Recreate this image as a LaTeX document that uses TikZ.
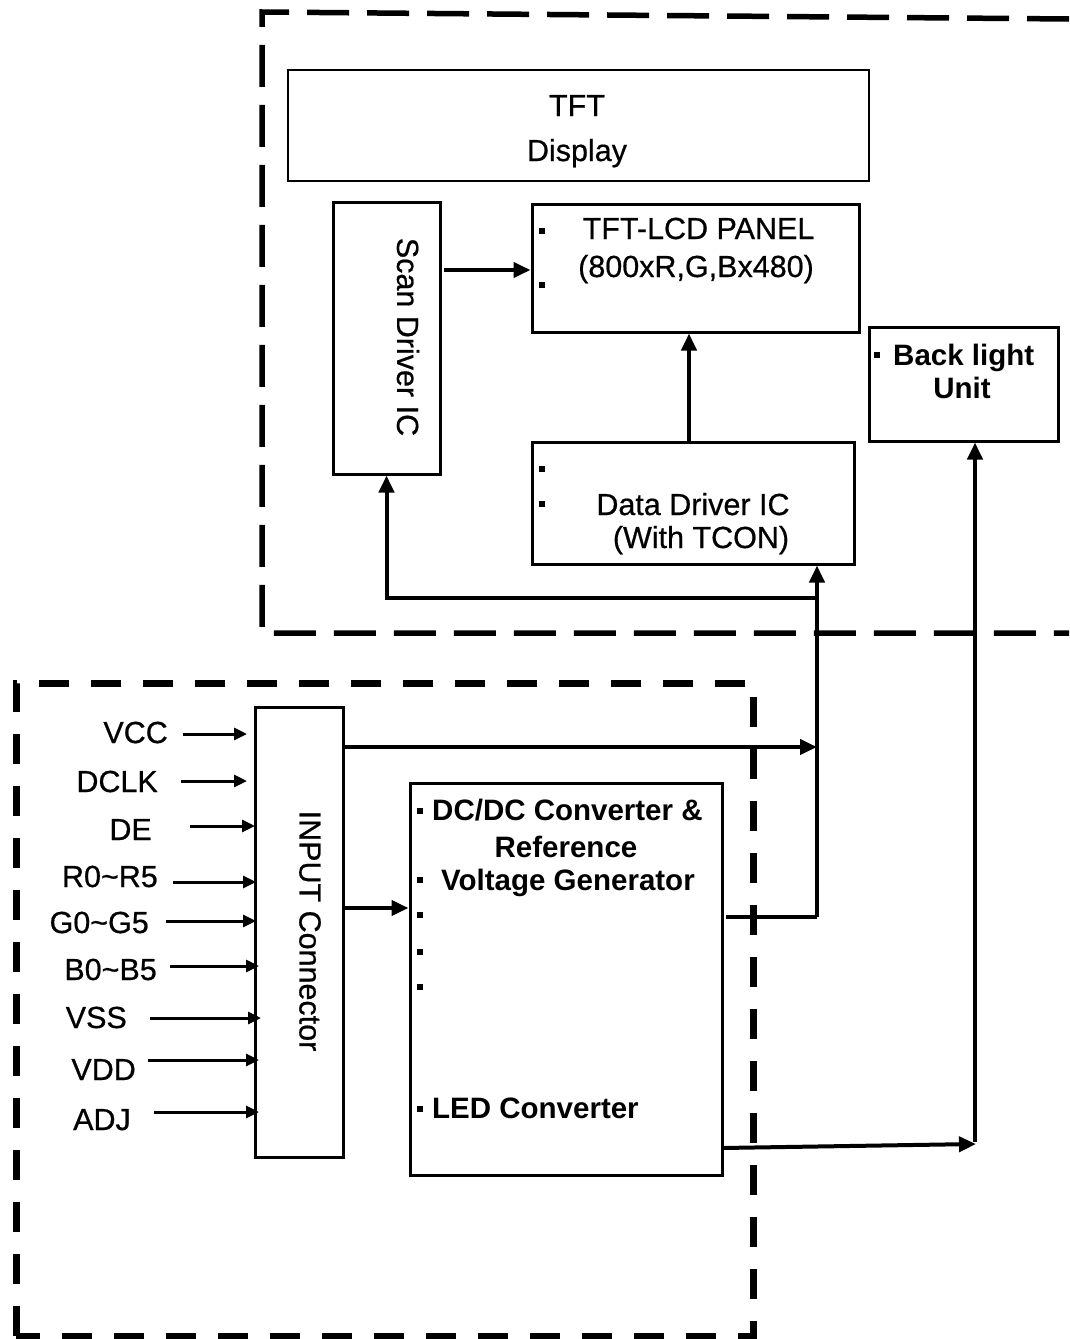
\documentclass[tikz,border=0pt]{standalone}
\usepackage{fontspec}
\setmainfont{Liberation Sans}
\newfontfamily\medfont{Liberation Sans}[FakeBold=0.6]
\usetikzlibrary{arrows.meta}
\begin{document}
\begin{tikzpicture}[x=1pt,y=-1pt,
  box/.style={draw,line width=3pt,inner sep=0pt},
  thinbox/.style={draw,line width=1.5pt,inner sep=0pt},
  txt/.style={inner sep=0pt,font=\medfont\fontsize{30.5}{34}\selectfont},
  btxt/.style={inner sep=0pt,font=\fontsize{29.5}{34}\selectfont\bfseries},
  bul/.style={fill=black,inner sep=0pt,minimum size=6.5pt},
  arr/.style={line width=4pt,-{Triangle[length=17pt,width=15pt]}},
  plain/.style={line width=4pt},
  inarr/.style={line width=3pt,-{Triangle[length=13pt,width=12pt]}},
  dashA/.style={line width=5.5pt,dash pattern=on 42pt off 18pt},
  dashB/.style={line width=7pt,dash pattern=on 30pt off 22pt}
]
\useasboundingbox (0,0) rectangle (1069,1339);
\fill[white] (0,0) rectangle (1069,1339);

% dashed group outlines
\draw[dashA] (1069,19) -- (262,12) -- (262,633) -- (1069,633);
\draw[dashB] (16,1336) -- (16,683) -- (753,683) -- (753,1336) -- (16,1336);

% boxes
\node[thinbox,minimum width=581pt,minimum height=111pt] (disp) at (578.5,125.5) {};
\node[box,minimum width=107pt,minimum height=272pt] (scan) at (386.5,338) {};
\node[box,minimum width=327pt,minimum height=128pt] (panel) at (695.5,268) {};
\node[box,minimum width=322pt,minimum height=122pt] (data) at (693,503) {};
\node[box,minimum width=189pt,minimum height=114pt] (back) at (963.5,384) {};
\node[box,minimum width=88pt,minimum height=450pt] (inp) at (299,932) {};
\node[box,minimum width=312pt,minimum height=392pt] (dcdc) at (566,979) {};

% texts
\node[txt,anchor=base] (t1) at (577,116) {TFT};
\node[txt,anchor=base] (t2) at (577,161) {Display};
\node[txt,rotate=-90] (t3) at (408,337) {Scan Driver IC};
\node[txt,anchor=base] (t4) at (698.5,239) {TFT-LCD PANEL};
\node[txt,anchor=base] (t5) at (696,277) {(800xR,G,Bx480)};
\node[bul] (b1) at (542,231) {};
\node[bul] (b2) at (542,285) {};
\node[txt,anchor=base] (t6) at (693,515) {Data Driver IC};
\node[txt,anchor=base] (t7) at (701,548) {(With TCON)};
\node[bul] (b3) at (542,469) {};
\node[bul] (b4) at (542,504) {};
\node[bul] (b5) at (877,355) {};
\node[btxt,anchor=base west] (t8) at (893,365) {Back light};
\node[btxt,anchor=base] (t9) at (962,398) {Unit};
\node[txt,rotate=-90] (t10) at (310,931) {INPUT Connector};
\node[bul] (b6) at (420,811) {};
\node[btxt,anchor=base west] (t11) at (432,820) {DC/DC Converter \&};
\node[btxt,anchor=base] (t12) at (566,857) {Reference};
\node[bul] (b7) at (420,880) {};
\node[btxt,anchor=base west] (t13) at (441,890) {Voltage Generator};
\node[bul] (b8) at (420,915) {};
\node[bul] (b9) at (420,952) {};
\node[bul] (b10) at (420,987) {};
\node[bul] (b11) at (420,1109) {};
\node[btxt,anchor=base west] (t14) at (432,1118) {LED Converter};

% input labels
\node[txt,anchor=base east] (lvcc) at (168,743) {VCC};
\node[txt,anchor=base east] (ldclk) at (158,792) {DCLK};
\node[txt,anchor=base east] (lde) at (152,840) {DE};
\node[txt,anchor=base east] (lr) at (158,887) {R0\char`\~R5};
\node[txt,anchor=base east] (lg) at (149,933) {G0\char`\~G5};
\node[txt,anchor=base east] (lb) at (157,980) {B0\char`\~B5};
\node[txt,anchor=base east] (lvss) at (127,1028) {VSS};
\node[txt,anchor=base east] (lvdd) at (136,1080) {VDD};
\node[txt,anchor=base east] (ladj) at (131,1130) {ADJ};

% input arrows
\coordinate (s1) at (183,734); \coordinate (e1) at (247,734);
\coordinate (s2) at (181,781); \coordinate (e2) at (247,781);
\coordinate (s3) at (190,826); \coordinate (e3) at (255,826);
\coordinate (s4) at (173,882); \coordinate (e4) at (256,882);
\coordinate (s5) at (166,921); \coordinate (e5) at (256,921);
\coordinate (s6) at (170,966); \coordinate (e6) at (259,966);
\coordinate (s7) at (150,1018); \coordinate (e7) at (261,1018);
\coordinate (s8) at (148,1060); \coordinate (e8) at (259,1060);
\coordinate (s9) at (154,1112); \coordinate (e9) at (259,1112);
\foreach \i in {1,...,9} { \draw[inarr] (s\i) -- (e\i); }

% connectors
\coordinate (c1) at (444,270);
\draw[arr] (c1) -- (c1 -| panel.west);
\coordinate (c2) at (689,442);
\draw[arr] (c2) -- (c2 |- panel.south);
\coordinate (bus) at (817,917);
\coordinate (jn) at (817,598);
\draw[arr] (bus) -- (bus |- data.south);
\draw[arr] (jn) -- (386.5,598) -- (scan.south);
\coordinate (c3) at (343,747);
\draw[arr] (c3) -- (c3 -| bus);
\coordinate (c4) at (726,917);
\draw[plain] (c4) -- (bus);
\coordinate (c5) at (343,908);
\draw[arr] (c5) -- (c5 -| dcdc.west);
\coordinate (c6) at (722,1148);
\coordinate (c7) at (976,1144);
\draw[arr] (c6) -- (c7);
\coordinate (c8) at (975,1142);
\draw[arr] (c8) -- (c8 |- back.south);
\end{tikzpicture}
\end{document}
